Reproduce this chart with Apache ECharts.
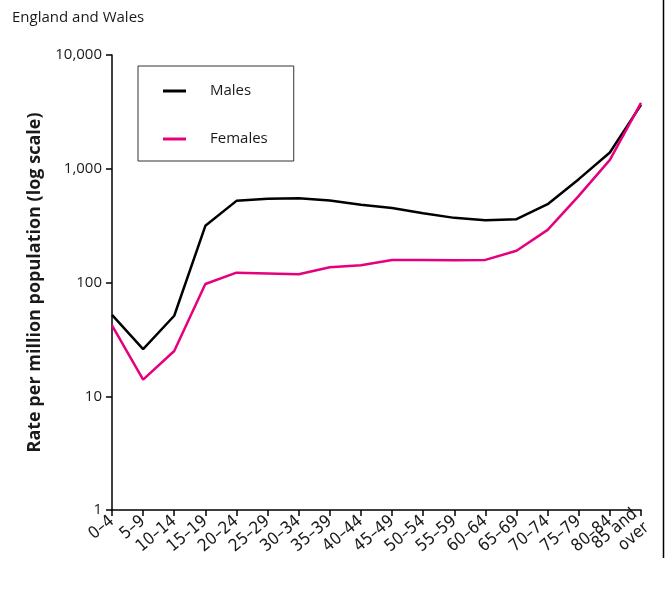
<!DOCTYPE html>
<html>
<head>
<meta charset="utf-8">
<script src="https://cdn.jsdelivr.net/npm/echarts@6/dist/echarts.min.js"></script>
<style>
  html, body { margin: 0; padding: 0; background: #fff; }
  #chart { width: 671px; height: 590px; }
</style>
</head>
<body>
<div id="chart"></div>
<script>
// Age bands (years)
var ageGroups = ['0–4', '5–9', '10–14', '15–19', '20–24', '25–29', '30–34', '35–39',
  '40–44', '45–49', '50–54', '55–59', '60–64', '65–69', '70–74', '75–79', '80–84', '85 and\nover'];

// Rate per million population
var males = [52, 26, 51, 315, 522, 544, 551, 525, 482, 452, 407, 370, 353, 360, 488, 810, 1389, 3648];
var females = [42, 14, 25, 97, 122, 120, 118, 136, 142, 158, 158, 157, 158, 190, 290, 578, 1197, 3800];

var yTicks = [1, 10, 100, 1000, 10000];

var FONT = '"Open Sans", "Noto Sans", sans-serif';
var NARROW = '"Liberation Sans Narrow", "DejaVu Sans Condensed", "Open Sans", sans-serif';
var chart = echarts.init(document.getElementById('chart'), null, { renderer: 'canvas' });

chart.setOption({
  animation: false,
  backgroundColor: '#ffffff',
  textStyle: { fontFamily: FONT, color: '#1a1a1a' },
  title: {
    text: 'England and Wales',
    left: 7,
    top: 5,
    textStyle: { fontFamily: FONT, fontSize: 15, fontWeight: 'normal', color: '#1a1a1a' }
  },
  legend: {
    left: 138,
    top: 66,
    orient: 'vertical',
    icon: 'rect',
    itemWidth: 23,
    itemHeight: 3,
    itemGap: 28,
    padding: [15, 26, 12, 25],
    borderColor: '#333',
    borderWidth: 1,
    textStyle: { fontFamily: FONT, fontSize: 15, color: '#1a1a1a', lineHeight: 20, padding: [0, 0, 0, 19] },
    data: ['Males', 'Females']
  },
  grid: { left: 112, right: 30, top: 55, bottom: 80, containLabel: false },
  xAxis: {
    type: 'category',
    data: ageGroups,
    boundaryGap: false,
    axisLine: { lineStyle: { color: '#000', width: 1.5 } },
    axisTick: { show: true, length: 6, lineStyle: { color: '#000', width: 1.5 } },
    axisLabel: {
      interval: 0, rotate: 40, margin: 9,
      fontFamily: NARROW, fontSize: 17, color: '#1a1a1a', lineHeight: 18
    },
    splitLine: { show: false }
  },
  yAxis: {
    type: 'log',
    logBase: 10,
    min: 1,
    max: 10000,
    name: 'Rate per million population (log scale)',
    nameLocation: 'middle',
    nameGap: 62,
    nameRotate: 90,
    nameTextStyle: { fontFamily: FONT, fontSize: 18, fontWeight: 'bold', color: '#1a1a1a' },
    axisLine: { show: true, lineStyle: { color: '#000', width: 1.5 } },
    axisTick: { show: true, length: 6, lineStyle: { color: '#000', width: 1.5 } },
    axisLabel: {
      margin: 10, fontFamily: FONT, fontSize: 15, color: '#1a1a1a',
      formatter: function (v) {
        if (yTicks.indexOf(v) < 0) return '';
        return v.toLocaleString('en-GB');
      }
    },
    splitLine: { show: false }
  },
  graphic: [{
    type: 'line',
    shape: { x1: 663.5, y1: 0, x2: 663.5, y2: 558 },
    style: { stroke: '#000', lineWidth: 1.5 }
  }],
  series: [{
    name: 'Males',
    type: 'line',
    data: males,
    symbol: 'none',
    lineStyle: { color: '#000000', width: 2.5 },
    itemStyle: { color: '#000000' }
  }, {
    name: 'Females',
    type: 'line',
    data: females,
    symbol: 'none',
    lineStyle: { color: '#e6007e', width: 2.5 },
    itemStyle: { color: '#e6007e' }
  }]
});
</script>
</body>
</html>
